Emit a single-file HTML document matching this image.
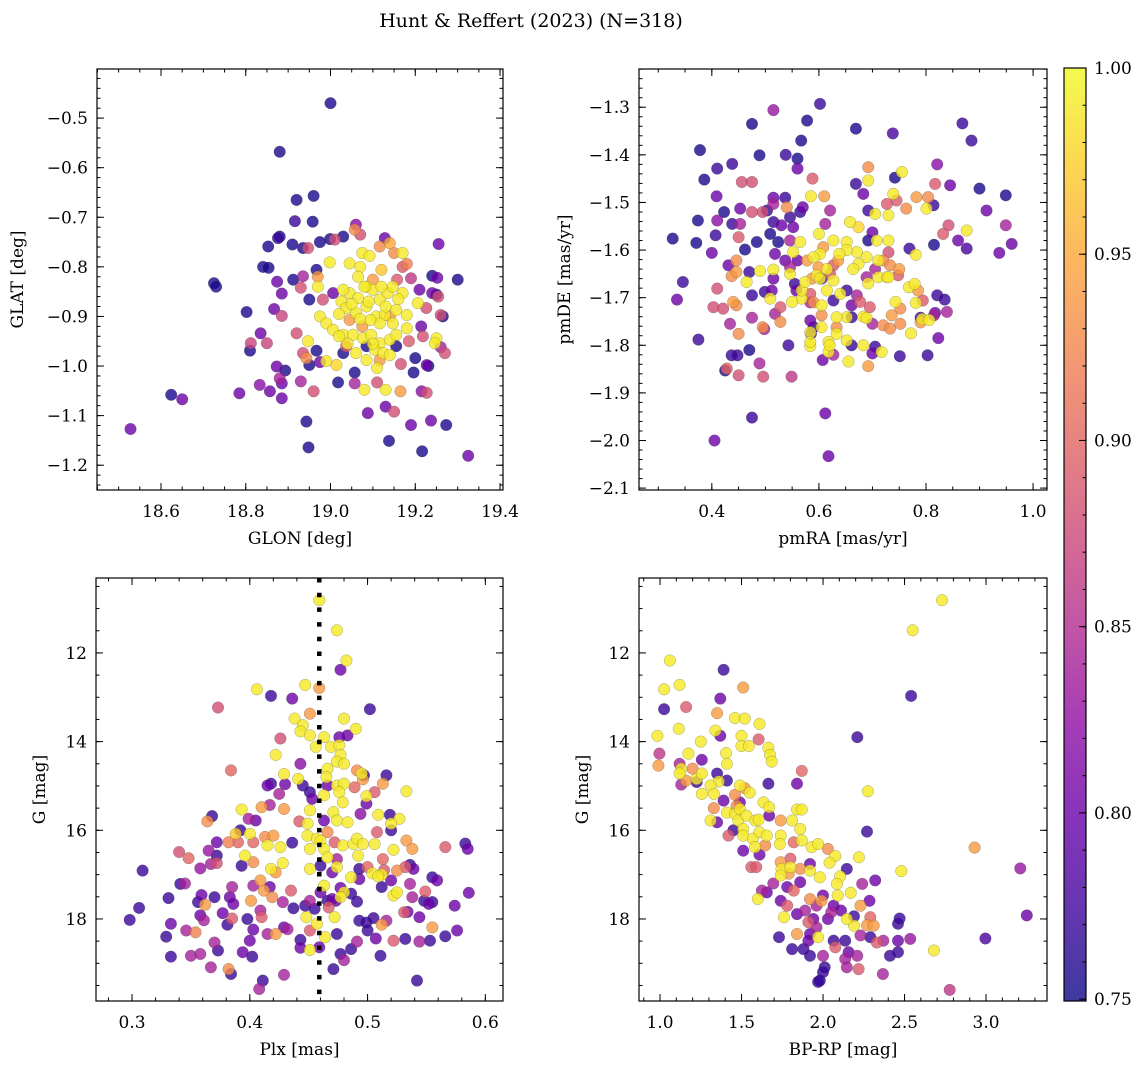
<!DOCTYPE html>
<html>
<head>
<meta charset="utf-8">
<style>
  html, body { margin: 0; padding: 0; background: #fff; }
  svg { display: block; font-family: "DejaVu Serif", "Liberation Serif", serif; }
</style>
</head>
<body>
<svg id="fig" width="1148" height="1068" viewBox="0 0 1148 1068" xmlns="http://www.w3.org/2000/svg">
  <text x="531" y="27" font-size="19" text-anchor="middle">Hunt &amp; Reffert (2023) (N=318)</text>
</svg>
<script>
// ---------- data (value, value, membership probability) ----------
const posPoints = [
[19.0,-0.47,.755],[18.88,-0.568,.755],[18.92,-0.665,.755],[18.96,-0.657,.755],[18.916,-0.708,.77],[18.958,-0.709,.755],[18.725,-0.833,.755],[18.73,-0.84,.755],[18.528,-1.127,.80],[18.624,-1.058,.755],[18.65,-1.067,.80],[18.785,-1.055,.80],[18.802,-0.891,.755],[18.81,-0.969,.755],[18.812,-0.954,.87],[18.835,-0.934,.80],[18.85,-0.954,.87],[18.867,-0.885,.80],[18.885,-0.899,.87],[18.874,-0.83,.80],[18.885,-0.854,.80],[18.841,-0.80,.755],[18.854,-0.802,.755],[18.853,-0.759,.755],[18.88,-0.739,.755],[18.876,-0.742,.77],[18.91,-0.755,.755],[18.935,-0.762,.755],[18.947,-0.762,.88],[18.975,-0.75,.755],[18.999,-0.744,.755],[19.01,-0.745,.88],[19.03,-0.739,.755],[19.06,-0.715,.82],[19.057,-0.725,.93],[19.07,-0.735,.88],[19.128,-0.742,.80],[19.116,-0.759,.93],[19.14,-0.752,.95],[19.17,-0.772,.99],[19.15,-0.772,.93],[19.255,-0.754,.80],[19.075,-0.772,.99],[19.092,-0.778,.99],[18.998,-0.791,.99],[19.18,-0.794,.92],[19.24,-0.818,.755],[19.252,-0.822,.80],[19.30,-0.826,.755],[18.912,-0.826,.755],[18.935,-0.819,.84],[18.93,-0.842,.88],[18.967,-0.806,.755],[18.97,-0.84,.99],[18.97,-0.82,.94],[18.95,-0.866,.755],[18.982,-0.866,.88],[18.92,-0.934,.88],[18.947,-0.95,.99],[18.967,-0.969,.755],[18.935,-0.974,.88],[18.943,-0.984,.93],[18.95,-0.998,.755],[18.975,-0.992,.80],[18.99,-0.99,.99],[19.014,-0.998,.98],[18.873,-1.001,.80],[18.893,-1.009,.755],[18.88,-1.025,.84],[18.885,-1.035,.80],[18.93,-1.031,.84],[18.833,-1.038,.82],[18.857,-1.051,.80],[18.885,-1.065,.80],[18.96,-1.051,.88],[18.943,-1.112,.755],[18.948,-1.164,.755],[19.018,-1.033,.755],[19.057,-1.013,.755],[19.057,-1.035,.84],[19.08,-1.048,.99],[19.088,-1.095,.80],[19.11,-1.033,.88],[19.13,-1.048,.99],[19.13,-1.082,.80],[19.15,-1.092,.88],[19.165,-1.051,.94],[19.166,-0.996,.88],[19.196,-1.013,.755],[19.2,-0.984,.755],[19.227,-0.998,.80],[19.231,-1.0,.755],[19.215,-1.051,.82],[19.227,-1.054,.88],[19.19,-1.119,.80],[19.237,-1.11,.80],[19.273,-1.119,.755],[19.138,-1.151,.755],[19.216,-1.172,.755],[19.325,-1.181,.80],[19.214,-0.92,.80],[19.218,-0.94,.88],[19.226,-0.883,.88],[19.25,-0.856,.755],[19.254,-0.86,.88],[19.265,-0.9,.755],[19.26,-0.897,.88],[19.25,-0.944,.99],[19.246,-0.954,.99],[19.26,-0.962,.84],[19.27,-0.974,.88],[19.21,-0.846,.80],[19.24,-0.853,.80],[19.206,-0.873,.99],[19.19,-0.823,.86],
[19.026,-0.87,.99],[19.045,-0.853,.99],[19.065,-0.863,.99],[19.085,-0.84,.99],[19.10,-0.846,.99],[19.116,-0.866,.99],[19.135,-0.853,.99],[19.147,-0.84,.99],[19.17,-0.853,.99],[19.037,-0.883,.99],[19.06,-0.893,.99],[19.085,-0.88,.99],[19.108,-0.90,.99],[19.128,-0.897,.99],[19.147,-0.914,.99],[19.18,-0.897,.99],[18.975,-0.90,.99],[18.99,-0.914,.99],[19.006,-0.927,.99],[19.03,-0.937,.99],[19.053,-0.937,.99],[19.077,-0.944,.99],[19.096,-0.937,.99],[19.116,-0.954,.99],[19.14,-0.947,.99],[19.155,-0.937,.99],[19.18,-0.924,.99],[19.06,-0.974,.99],[19.085,-0.988,.99],[19.104,-0.967,.99],[19.124,-0.974,.99],[19.14,-0.978,.99],[19.11,-1.004,.99],[19.02,-0.94,.99],[19.045,-0.793,.99],[19.07,-0.80,.99],[19.12,-0.806,.97],[19.08,-0.84,.99],[19.03,-0.846,.99],[19.155,-0.887,.99],[19.116,-0.914,.99],[19.094,-0.907,.99],
[19.05,-0.875,.99],[19.07,-0.905,.99],[19.09,-0.87,.99],[19.13,-0.88,.99],[19.02,-0.895,.99],[19.1,-0.955,.99],[19.16,-0.865,.99],[19.04,-0.955,.99],[19.12,-0.84,.99],[19.065,-0.82,.99],
[19.10,-0.826,.94],[19.157,-0.826,.89],[19.045,-0.907,.94],[19.116,-0.988,.94],[19.185,-0.95,.89],[19.075,-0.92,.94],[19.14,-0.90,.94],[19.037,-0.96,.89],[19.17,-0.80,.89],
[19.006,-0.853,.80],[19.03,-0.974,.755],[19.085,-0.96,.755],[19.155,-0.96,.755]
];
const pmPoints = [
[0.327,-1.576,.755],[0.346,-1.667,.77],[0.335,-1.704,.80],[0.371,-1.585,.755],[0.374,-1.538,.755],[0.378,-1.39,.755],[0.386,-1.452,.755],[0.40,-1.606,.80],[0.407,-1.569,.77],[0.409,-1.487,.80],[0.41,-1.429,.77],[0.41,-1.538,.82],[0.423,-1.52,.755],[0.438,-1.419,.77],[0.438,-1.545,.77],[0.453,-1.513,.80],[0.456,-1.457,.88],[0.475,-1.457,.88],[0.475,-1.335,.755],[0.489,-1.401,.755],[0.475,-1.52,.88],[0.495,-1.52,.88],[0.515,-1.306,.83],[0.515,-1.49,.80],[0.537,-1.49,.77],[0.538,-1.40,.77],[0.56,-1.408,.755],[0.56,-1.429,.80],[0.567,-1.37,.755],[0.578,-1.328,.755],[0.602,-1.293,.77],[0.669,-1.345,.755],[0.738,-1.355,.78],[0.868,-1.334,.77],[0.885,-1.37,.77],[0.90,-1.471,.755],[0.949,-1.485,.755],[0.913,-1.517,.80],[0.949,-1.548,.84],[0.96,-1.587,.80],[0.937,-1.606,.80],[0.876,-1.597,.78],[0.86,-1.58,.80],[0.842,-1.548,.88],[0.832,-1.566,.89],[0.876,-1.559,.99],[0.845,-1.464,.80],[0.821,-1.42,.82],[0.817,-1.461,.89],[0.815,-1.589,.755],[0.782,-1.489,.94],[0.804,-1.489,.93],[0.801,-1.513,.99],[0.814,-1.506,.77],[0.763,-1.513,.93],[0.745,-1.496,.89],[0.739,-1.482,.99],[0.755,-1.436,.99],[0.742,-1.448,.755],[0.692,-1.454,.99],[0.692,-1.426,.93],[0.669,-1.461,.77],[0.683,-1.482,.80],[0.692,-1.517,.77],[0.705,-1.524,.99],[0.73,-1.527,.99],[0.727,-1.503,.89],[0.674,-1.552,.98],[0.658,-1.541,.99],[0.621,-1.517,.84],[0.61,-1.487,.94],[0.585,-1.487,.99],[0.588,-1.45,.89],[0.60,-1.566,.99],[0.612,-1.545,.84],[0.627,-1.58,.99],[0.652,-1.583,.99],[0.692,-1.58,.755],[0.70,-1.563,.80],[0.708,-1.58,.99],[0.73,-1.58,.99],[0.769,-1.597,.77],[0.781,-1.61,.99],[0.73,-1.605,.88],[0.711,-1.622,.99],[0.689,-1.615,.99],[0.671,-1.604,.99],[0.674,-1.629,.99],[0.664,-1.64,.99],[0.652,-1.60,.99],[0.636,-1.622,.94],[0.638,-1.608,.99],[0.627,-1.632,.89],[0.608,-1.594,.94],[0.602,-1.608,.99],[0.59,-1.615,.99],[0.578,-1.622,.94],[0.565,-1.583,.99],[0.552,-1.604,.99],[0.546,-1.580,.84],[0.552,-1.552,.80],[0.546,-1.531,.77],[0.53,-1.548,.80],[0.515,-1.503,.84],[0.503,-1.517,.77],[0.54,-1.51,.93],[0.515,-1.541,.77],[0.509,-1.566,.755],[0.524,-1.583,.755],[0.518,-1.608,.80],[0.484,-1.583,.755],[0.462,-1.599,.755],[0.453,-1.545,.84],[0.45,-1.573,.89],[0.431,-1.632,.80],[0.446,-1.622,.93],[0.437,-1.655,.93],[0.446,-1.646,.94],[0.47,-1.646,.77],[0.465,-1.667,.99],[0.41,-1.681,.88],[0.403,-1.72,.88],[0.421,-1.723,.88],[0.434,-1.755,.84],[0.446,-1.716,.93],[0.45,-1.776,.93],[0.44,-1.709,.94],[0.475,-1.695,.77],[0.475,-1.742,.84],[0.495,-1.762,.93],[0.498,-1.766,.84],[0.49,-1.644,.99],[0.515,-1.66,.80],[0.512,-1.685,.80],[0.499,-1.688,.77],[0.515,-1.641,.99],[0.509,-1.702,.99],[0.518,-1.734,.84],[0.528,-1.72,.89],[0.528,-1.751,.93],[0.543,-1.80,.77],[0.537,-1.622,.80],[0.546,-1.636,.84],[0.546,-1.65,.99],[0.56,-1.622,.80],[0.555,-1.671,.77],[0.558,-1.685,.80],[0.568,-1.702,.99],[0.55,-1.709,.99],[0.568,-1.685,.99],[0.574,-1.667,.99],[0.584,-1.692,.89],[0.584,-1.71,.84],[0.59,-1.71,.93],[0.587,-1.66,.94],[0.596,-1.653,.99],[0.599,-1.636,.94],[0.605,-1.66,.77],[0.615,-1.64,.99],[0.621,-1.65,.89],[0.602,-1.66,.99],[0.615,-1.685,.99],[0.627,-1.664,.99],[0.627,-1.706,.77],[0.64,-1.692,.99],[0.652,-1.685,.77],[0.652,-1.741,.99],[0.661,-1.716,.80],[0.671,-1.695,.84],[0.677,-1.709,.89],[0.661,-1.741,.77],[0.633,-1.741,.99],[0.633,-1.762,.93],[0.633,-1.776,.99],[0.605,-1.716,.99],[0.605,-1.737,.93],[0.605,-1.762,.99],[0.584,-1.748,.80],[0.584,-1.773,.99],[0.585,-1.776,.77],[0.584,-1.802,.99],[0.584,-1.793,.99],[0.59,-1.762,.77],[0.607,-1.831,.80],[0.627,-1.82,.84],[0.618,-1.793,.99],[0.618,-1.814,.99],[0.62,-1.80,.99],[0.652,-1.79,.99],[0.655,-1.834,.99],[0.661,-1.80,.77],[0.683,-1.80,.99],[0.692,-1.844,.94],[0.705,-1.803,.77],[0.717,-1.814,.99],[0.70,-1.817,.80],[0.683,-1.74,.99],[0.689,-1.743,.99],[0.695,-1.72,.89],[0.70,-1.755,.84],[0.692,-1.67,.99],[0.689,-1.657,.84],[0.711,-1.657,.99],[0.705,-1.64,.84],[0.72,-1.622,.93],[0.727,-1.657,.99],[0.72,-1.758,.93],[0.733,-1.765,.93],[0.736,-1.737,.94],[0.743,-1.709,.99],[0.752,-1.723,.93],[0.752,-1.755,.93],[0.75,-1.64,.94],[0.748,-1.653,.89],[0.768,-1.678,.99],[0.779,-1.671,.99],[0.785,-1.685,.94],[0.781,-1.711,.99],[0.794,-1.706,.89],[0.772,-1.775,.99],[0.79,-1.752,.94],[0.793,-1.745,.99],[0.79,-1.742,.77],[0.806,-1.747,.99],[0.815,-1.737,.84],[0.817,-1.732,.80],[0.821,-1.695,.77],[0.835,-1.704,.77],[0.839,-1.73,.84],[0.823,-1.785,.80],[0.803,-1.821,.77],[0.751,-1.823,.77],[0.73,-1.657,.99],[0.733,-1.632,.93],
[0.475,-1.952,.77],[0.405,-2.0,.80],[0.612,-1.943,.80],[0.618,-2.033,.80],[0.549,-1.866,.86],[0.496,-1.866,.88],[0.489,-1.838,.84],[0.45,-1.863,.88],[0.428,-1.849,.90],[0.425,-1.853,.755],[0.437,-1.821,.77],[0.448,-1.821,.77],[0.47,-1.81,.755],[0.375,-1.788,.77],[0.57,-1.51,.80],[0.565,-1.52,.77]
];
const cmdPlxPoints = [
[0.459,10.81,.99],[0.474,11.49,.99],[0.482,12.17,.99],[0.477,12.38,.80],[0.447,12.72,.99],[0.459,12.79,.94],[0.406,12.82,.99],[0.418,12.97,.77],[0.436,13.03,.80],[0.373,13.23,.88],[0.502,13.27,.77],[0.438,13.48,.99],[0.451,13.37,.94],[0.445,13.63,.99],[0.443,13.77,.99],[0.451,13.86,.99],[0.463,13.9,.99],[0.48,13.48,.99],[0.49,13.71,.99],[0.476,13.9,.80],[0.483,13.86,.80],[0.426,13.93,.88],[0.456,14.12,.99],[0.469,14.12,.99],[0.476,14.08,.99],[0.477,14.3,.99],[0.474,14.45,.99],[0.48,14.5,.99],[0.422,14.3,.99],[0.443,14.5,.82],[0.384,14.65,.90],[0.466,14.61,.99],[0.465,14.8,.99],[0.429,14.73,.99],[0.441,14.84,.99],[0.418,14.95,.77],[0.415,14.99,.80],[0.43,14.96,.80],[0.445,14.99,.77],[0.491,14.65,.93],[0.495,14.72,.99],[0.497,14.76,.77],[0.496,14.85,.94],[0.516,14.76,.77],[0.513,14.95,.94],[0.474,14.99,.99],[0.48,14.95,.99],[0.466,14.99,.80],[0.489,15.03,.90],[0.533,15.12,.99],[0.506,15.14,.89],[0.499,15.23,.99],[0.499,15.4,.80],[0.476,15.14,.99],[0.479,15.37,.99],[0.463,15.21,.99],[0.453,15.29,.80],[0.451,15.14,.77],[0.425,15.18,.84],[0.417,15.43,.84],[0.41,15.48,.94],[0.429,15.52,.94],[0.393,15.53,.99],[0.368,15.68,.77],[0.364,15.8,.93],[0.451,15.55,.99],[0.471,15.59,.99],[0.474,15.78,.99],[0.483,15.82,.99],[0.449,15.85,.99],[0.442,15.8,.89],[0.463,15.78,.80],[0.494,15.63,.82],[0.508,16.04,.89],[0.509,15.65,.99],[0.519,15.65,.77],[0.527,15.74,.99],[0.52,15.85,.99],[0.52,16.0,.77],[0.399,15.74,.84],[0.405,15.78,.80],[0.392,16.0,.77],[0.388,16.08,.97],[0.382,16.27,.92],[0.39,16.27,.90],[0.40,16.08,.99],[0.403,16.27,.90],[0.372,16.27,.80],[0.365,16.46,.83],[0.372,16.57,.77],[0.34,16.49,.88],[0.348,16.63,.90],[0.413,16.15,.93],[0.42,16.12,.94],[0.415,16.34,.99],[0.426,16.38,.99],[0.436,16.28,.77],[0.449,16.12,.99],[0.457,16.19,.99],[0.46,16.24,.99],[0.466,16.04,.93],[0.472,16.27,.89],[0.479,16.34,.99],[0.488,16.31,.99],[0.491,16.19,.99],[0.496,16.31,.99],[0.506,16.31,.99],[0.513,16.65,.90],[0.533,16.23,.94],[0.538,16.42,.94],[0.566,16.38,.89],[0.583,16.3,.77],[0.585,16.42,.80],[0.522,16.44,.99],[0.492,16.57,.99],[0.463,16.42,.99],[0.466,16.61,.99],[0.474,16.65,.84],[0.451,16.42,.99],[0.451,16.87,.99],[0.46,16.8,.77],[0.474,16.83,.99],[0.47,16.95,.80],[0.393,16.8,.77],[0.403,16.72,.93],[0.396,16.57,.99],[0.418,16.87,.99],[0.428,16.74,.99],[0.422,16.95,.94],[0.358,16.86,.83],[0.367,16.76,.84],[0.372,16.74,.88],[0.309,16.91,.77],[0.493,16.87,.77],[0.50,16.83,.90],[0.504,16.97,.99],[0.512,17.0,.99],[0.514,16.9,.89],[0.509,17.04,.99],[0.525,16.91,.93],[0.532,16.83,.89],[0.539,16.87,.80],[0.536,16.78,.77],[0.486,17.06,.99],[0.493,17.1,.80],[0.512,17.28,.77],[0.52,17.13,.80],[0.555,17.06,.77],[0.559,17.13,.80],[0.536,17.21,.84],[0.463,17.25,.99],[0.46,17.4,.80],[0.48,17.4,.99],[0.477,17.51,.99],[0.473,17.59,.80],[0.466,17.59,.77],[0.486,17.43,.77],[0.477,17.3,.80],[0.586,17.41,.80],[0.549,17.38,.89],[0.552,17.66,.80],[0.555,17.62,.77],[0.548,17.59,.77],[0.538,17.51,.84],[0.522,17.47,.99],[0.525,17.4,.99],[0.491,17.61,.77],[0.574,17.7,.80],[0.341,17.21,.77],[0.345,17.2,.84],[0.331,17.53,.77],[0.306,17.75,.77],[0.298,18.02,.77],[0.333,18.11,.80],[0.329,18.4,.77],[0.333,18.85,.77],[0.346,18.26,.84],[0.354,18.3,.92],[0.35,18.83,.84],[0.358,18.79,.84],[0.358,17.92,.80],[0.361,18.03,.84],[0.359,17.46,.80],[0.356,17.62,.77],[0.362,17.68,.94],[0.37,17.51,.77],[0.37,18.53,.84],[0.373,18.71,.77],[0.367,19.09,.84],[0.377,17.87,.80],[0.381,18.13,.77],[0.385,17.99,.89],[0.382,19.13,.93],[0.384,19.24,.77],[0.383,17.51,.80],[0.386,17.66,.80],[0.385,17.28,.84],[0.398,18.0,.77],[0.401,17.59,.94],[0.40,18.49,.80],[0.403,18.24,.80],[0.394,18.75,.80],[0.402,18.85,.77],[0.408,19.58,.84],[0.411,19.39,.77],[0.415,18.34,.84],[0.422,18.34,.94],[0.409,17.81,.84],[0.41,17.96,.89],[0.403,17.25,.84],[0.417,17.28,.80],[0.419,17.51,.93],[0.412,17.36,.94],[0.409,17.13,.94],[0.428,17.62,.84],[0.435,17.36,.89],[0.437,17.76,.77],[0.429,18.19,.80],[0.432,18.23,.84],[0.429,19.26,.84],[0.443,18.47,.77],[0.443,18.65,.80],[0.447,17.7,.77],[0.451,17.59,.84],[0.448,17.96,.99],[0.451,18.26,.89],[0.457,18.11,.99],[0.451,18.7,.99],[0.459,18.64,.80],[0.464,18.41,.99],[0.455,17.77,.77],[0.467,17.74,.89],[0.472,17.96,.99],[0.474,18.34,.77],[0.471,19.13,.77],[0.477,18.79,.77],[0.48,18.93,.84],[0.486,18.68,.77],[0.491,18.51,.84],[0.493,18.04,.77],[0.50,18.26,.77],[0.499,18.08,.77],[0.505,17.98,.77],[0.512,18.13,.94],[0.516,18.04,.84],[0.507,18.44,.80],[0.511,18.83,.77],[0.522,18.49,.89],[0.532,18.45,.77],[0.531,17.85,.89],[0.534,17.84,.80],[0.544,17.96,.80],[0.544,18.51,.84],[0.553,18.49,.77],[0.555,18.19,.94],[0.566,18.39,.77],[0.576,18.26,.80],[0.542,19.39,.77],[0.47,17.55,.80]
];
const cmdColorPoints = [
[2.73,10.81,.99],[2.55,11.49,.99],[2.54,12.97,.77],[2.21,13.9,.77],[2.27,16.03,.77],[2.275,15.12,.99],[2.22,16.61,.99],[2.48,16.92,.99],[2.93,16.39,.94],[3.21,16.86,.83],[3.25,17.92,.80],[2.996,18.44,.78],[2.68,18.71,.99],[2.777,19.6,.86],[1.06,12.17,.99],[1.025,12.82,.99],[1.12,12.72,.99],[1.025,13.27,.77],[1.16,13.22,.89],[1.39,12.38,.77],[1.51,12.78,.94],[1.37,13.03,.80],[0.984,13.87,.99],[1.115,13.71,.99],[1.35,13.36,.94],[1.46,13.47,.99],[1.52,13.48,.99],[1.61,13.6,.99],[1.25,14.0,.99],[1.34,13.75,.99],[1.37,13.87,.80],[1.5,13.87,.99],[1.5,14.1,.99],[1.545,14.1,.99],[1.605,13.95,.89],[1.665,14.14,.99],[1.675,14.3,.99],[1.685,14.45,.99],[1.405,14.26,.99],[1.41,14.5,.99],[1.174,14.27,.99],[1.256,14.41,.80],[0.996,14.27,.86],[0.99,14.54,.94],[1.12,14.5,.84],[1.13,14.61,.99],[1.12,14.72,.99],[1.2,14.61,.93],[1.16,14.88,.94],[1.13,14.97,.84],[1.225,14.91,.77],[1.225,14.84,.99],[1.256,14.72,.99],[1.256,15.18,.99],[1.35,14.72,.77],[1.36,14.9,.99],[1.31,14.99,.99],[1.33,15.18,.99],[1.41,14.88,.77],[1.49,14.99,.99],[1.52,15.05,.94],[1.46,15.2,.93],[1.55,15.15,.99],[1.665,14.95,.77],[1.84,14.95,.80],[1.87,14.66,.90],[1.39,15.33,.80],[1.33,15.5,.93],[1.31,15.78,.99],[1.35,15.82,.80],[1.41,15.6,.99],[1.46,15.63,.99],[1.48,15.78,.99],[1.49,15.37,.80],[1.47,15.45,.93],[1.49,15.52,.99],[1.53,15.67,.99],[1.585,15.78,.99],[1.605,15.76,.99],[1.635,15.37,.99],[1.67,15.67,.80],[1.67,15.48,.99],[1.74,15.78,.94],[1.81,15.78,.99],[1.84,15.53,.99],[1.87,15.53,.99],[1.86,15.97,.99],[1.87,16.23,.99],[1.93,16.38,.99],[1.97,16.31,.99],[2.03,16.42,.93],[2.075,16.58,.99],[2.04,16.73,.99],[2.146,16.87,.77],[2.105,17.04,.99],[2.085,17.21,.99],[2.09,17.47,.99],[2.17,17.41,.99],[2.24,17.21,.84],[2.32,17.13,.80],[2.285,17.59,.80],[2.23,17.7,.94],[2.29,17.96,.90],[2.27,18.14,.94],[2.19,18.15,.99],[2.146,18.0,.99],[2.19,17.94,.77],[1.45,16.0,.77],[1.42,16.12,.89],[1.51,15.97,.99],[1.51,16.12,.99],[1.57,16.19,.99],[1.583,16.38,.99],[1.51,16.46,.80],[1.61,16.04,.99],[1.655,16.12,.99],[1.645,16.34,.93],[1.61,16.55,.80],[1.74,16.12,.99],[1.735,16.31,.99],[1.82,16.27,.90],[1.8,16.64,.89],[1.74,16.72,.94],[1.745,16.87,.99],[1.8,16.83,.99],[1.74,17.02,.99],[1.79,16.98,.94],[1.86,16.87,.93],[1.92,16.91,.99],[1.98,17.06,.99],[1.92,16.76,.80],[1.56,16.83,.89],[1.59,16.83,.89],[1.6,17.55,.99],[1.625,17.36,.84],[1.655,17.4,.80],[1.695,17.2,.84],[1.78,17.28,.80],[1.74,17.59,.80],[1.82,17.36,.90],[1.86,17.17,.80],[1.92,17.55,.93],[1.99,17.59,.94],[1.96,17.7,.84],[2.0,17.47,.80],[2.065,17.7,.80],[2.05,17.85,.84],[2.03,18.0,.80],[2.11,17.81,.80],[1.76,17.96,.99],[1.78,17.7,.89],[1.84,17.89,.80],[1.89,17.81,.84],[1.91,18.07,.89],[1.94,18.0,.80],[1.96,18.19,.84],[1.73,18.41,.77],[1.84,18.34,.94],[1.92,18.34,.80],[1.97,18.41,.99],[1.91,18.49,.80],[1.81,18.68,.77],[1.88,18.68,.77],[1.92,18.83,.77],[2.0,18.83,.84],[2.065,18.49,.77],[2.075,18.64,.89],[2.136,18.49,.77],[2.157,18.75,.80],[2.136,18.9,.84],[2.146,19.09,.84],[2.21,18.83,.84],[2.218,19.13,.89],[2.01,19.09,.77],[2.0,19.2,.77],[1.98,19.39,.755],[1.97,19.42,.77],[2.23,18.37,.84],[2.29,18.41,.77],[2.33,18.53,.89],[2.37,18.49,.84],[2.41,18.83,.77],[2.46,18.75,.77],[2.46,18.49,.80],[2.46,18.11,.77],[2.47,17.99,.77],[2.535,18.45,.83],[2.367,19.24,.84],[2.31,18.15,.94]
];
// tick labels
const tlXTicks = [18.6, 18.8, 19.0, 19.2, 19.4];
const tlYTicks = [-0.5, -0.6, -0.7, -0.8, -0.9, -1.0, -1.1, -1.2];
const trXTicks = [0.4, 0.6, 0.8, 1.0];
const trYTicks = [-1.3, -1.4, -1.5, -1.6, -1.7, -1.8, -1.9, -2.0, -2.1];
const blXTicks = [0.3, 0.4, 0.5, 0.6];
const gTicks = [12, 14, 16, 18];
const brXTicks = [1.0, 1.5, 2.0, 2.5, 3.0];
const cbTicks = [0.75, 0.80, 0.85, 0.90, 0.95, 1.00];
const refParallax = [0.459];

// ---------- rendering ----------
const NS = "http://www.w3.org/2000/svg";
const svg = document.getElementById("fig");
const VMIN = 0.7495, VMAX = 1.0;
const FS = 17;
const plasmaStops = ["#0d0887","#41049d","#6a00a8","#8f0da4","#b12a90","#cc4778","#e16462","#f2844b","#fca636","#fcce25","#f0f921"];
function hex2rgb(h){return [parseInt(h.slice(1,3),16),parseInt(h.slice(3,5),16),parseInt(h.slice(5,7),16)];}
function plasma(t){
  t=Math.max(0,Math.min(1,t));
  const f=t*10, i=Math.min(9,Math.floor(f)), u=f-i;
  const a=hex2rgb(plasmaStops[i]), b=hex2rgb(plasmaStops[i+1]);
  return "rgb("+a.map((v,k)=>Math.round(v+(b[k]-v)*u)).join(",")+")";
}
function el(tag, attrs, parent){
  const e=document.createElementNS(NS,tag);
  for(const k in attrs) e.setAttribute(k, attrs[k]);
  (parent||svg).appendChild(e);
  return e;
}
function fmt(v, d){ const s=Math.abs(v).toFixed(d); return (v<0?"\u2212":"")+s; }

function panel(o){
  const g=el("g",{});
  
  
  const sx=v=>o.l+(v-o.xd[0])/(o.xd[1]-o.xd[0])*(o.r-o.l);
  const sy=v=>o.t+(v-o.yd[0])/(o.yd[1]-o.yd[0])*(o.b-o.t);
  const clipId="clip-"+o.name;
  const cp=el("clipPath",{id:clipId},g);
  el("rect",{x:o.l,y:o.t,width:o.r-o.l,height:o.b-o.t},cp);
  const pg=el("g",{"clip-path":"url(#"+clipId+")"},g);
  
  
  const pts=o.pts.slice().sort((a,b)=>a[2]-b[2]);
  pts.forEach(p=>{
    const c=el("circle",{cx:sx(p[0]).toFixed(1),cy:sy(p[1]).toFixed(1),r:5.8,fill:plasma((p[2]-VMIN)/(VMAX-VMIN)),"fill-opacity":0.8,stroke:"rgba(70,70,70,0.45)","stroke-width":0.5},pg);
    
    
  });
  if(o.vline){
    o.vline.forEach(v=>{
      const ln=el("line",{x1:sx(v),x2:sx(v),y1:o.t,y2:o.b,stroke:"#000","stroke-width":4.5,"stroke-dasharray":"4.5 10.2"},pg);
      
      
    });
  }
  const frame=el("rect",{x:o.l,y:o.t,width:o.r-o.l,height:o.b-o.t,fill:"none",stroke:"#000","stroke-width":1.2},g);
  
  
  const tk=el("g",{stroke:"#000","stroke-width":1},g);
  
  
  const xmin=Math.min(...o.xd), xmax=Math.max(...o.xd), ymin=Math.min(...o.yd), ymax=Math.max(...o.yd);
  for(let v=Math.ceil(xmin/o.xMin)*o.xMin; v<=xmax+1e-9; v+=o.xMin){
    const x=sx(v); el("line",{x1:x,x2:x,y1:o.b,y2:o.b-3.5},tk); el("line",{x1:x,x2:x,y1:o.t,y2:o.t+3.5},tk);
  }
  for(let v=Math.ceil(ymin/o.yMin)*o.yMin; v<=ymax+1e-9; v+=o.yMin){
    const y=sy(v); el("line",{x1:o.l,x2:o.l+3.5,y1:y,y2:y},tk); el("line",{x1:o.r,x2:o.r-3.5,y1:y,y2:y},tk);
  }
  o.xTicks.forEach(v=>{
    const x=sx(v);
    el("line",{x1:x,x2:x,y1:o.b,y2:o.b-7},tk); el("line",{x1:x,x2:x,y1:o.t,y2:o.t+7},tk);
    const t=el("text",{x:x,y:o.b+27,"font-size":FS,"text-anchor":"middle"},g);
    t.textContent=fmt(v,o.xDec);
    
    
  });
  o.yTicks.forEach(v=>{
    const y=sy(v);
    el("line",{x1:o.l,x2:o.l+7,y1:y,y2:y},tk); el("line",{x1:o.r,x2:o.r-7,y1:y,y2:y},tk);
    const t=el("text",{x:o.l-9,y:y+6,"font-size":FS,"text-anchor":"end"},g);
    t.textContent=fmt(v,o.yDec);
    
    
  });
  const xl=el("text",{x:(o.l+o.r)/2,y:o.b+54,"font-size":FS,"text-anchor":"middle"},g);
  xl.textContent=o.xlabel;
  
  
  const yl=el("text",{x:0,y:0,"font-size":FS,"text-anchor":"middle",transform:"translate("+o.ylx+","+((o.t+o.b)/2)+") rotate(-90)"},g);
  yl.textContent=o.ylabel;
  
  
}

panel({name:"position-panel",l:97,r:503,t:69,b:490,xd:[18.449,19.407],yd:[-0.401,-1.25],pts:posPoints,xTicks:tlXTicks,yTicks:tlYTicks,xMin:0.05,yMin:0.02,xDec:1,yDec:1,xlabel:"GLON [deg]",ylabel:"GLAT [deg]",ylx:23});
panel({name:"proper-motion-panel",l:639,r:1047,t:69,b:490,xd:[0.264,1.026],yd:[-1.2197,-2.104],pts:pmPoints,xTicks:trXTicks,yTicks:trYTicks,xMin:0.05,yMin:0.02,xDec:1,yDec:1,xlabel:"pmRA [mas/yr]",ylabel:"pmDE [mas/yr]",ylx:570});
panel({name:"parallax-cmd-panel",l:96,r:503,t:578,b:1001,xd:[0.2694,0.615],yd:[10.31,19.85],pts:cmdPlxPoints,xTicks:blXTicks,yTicks:gTicks,xMin:0.02,yMin:0.5,xDec:1,yDec:0,xlabel:"Plx [mas]",ylabel:"G [mag]",ylx:45,vline:refParallax});
panel({name:"color-magnitude-panel",l:639,r:1047,t:578,b:1001,xd:[0.871,3.374],yd:[10.31,19.85],pts:cmdColorPoints,xTicks:brXTicks,yTicks:gTicks,xMin:0.1,yMin:0.5,xDec:1,yDec:0,xlabel:"BP-RP [mag]",ylabel:"G [mag]",ylx:588});

// colorbar
(function(){
  const L=1064,R=1086,T=68,B=1001;
  const g=el("g",{});
  
  
  const defs=el("defs",{},g);
  const lg=el("linearGradient",{id:"cbgrad",x1:0,y1:1,x2:0,y2:0},defs);
  for(let i=0;i<=20;i++){ el("stop",{offset:(i/20),"stop-color":plasma(i/20),"stop-opacity":0.8},lg); }
  const r=el("rect",{x:L,y:T,width:R-L,height:B-T,fill:"url(#cbgrad)",stroke:"#000","stroke-width":1.2},g);
  
  
  const sy=v=>B-(v-VMIN)/(VMAX-VMIN)*(B-T);
  const tk=el("g",{stroke:"#000","stroke-width":1},g);
  for(let v=0.75; v<=1.0001; v+=0.01){ el("line",{x1:R,x2:R-3.5,y1:sy(v),y2:sy(v)},tk); }
  cbTicks.forEach(v=>{
    const y=sy(v);
    el("line",{x1:R,x2:R-7,y1:y,y2:y},tk);
    const t=el("text",{x:R+8,y:y+6,"font-size":FS},g);
    t.textContent=v.toFixed(2);
    
    
  });
})();
</script>
</body>
</html>
